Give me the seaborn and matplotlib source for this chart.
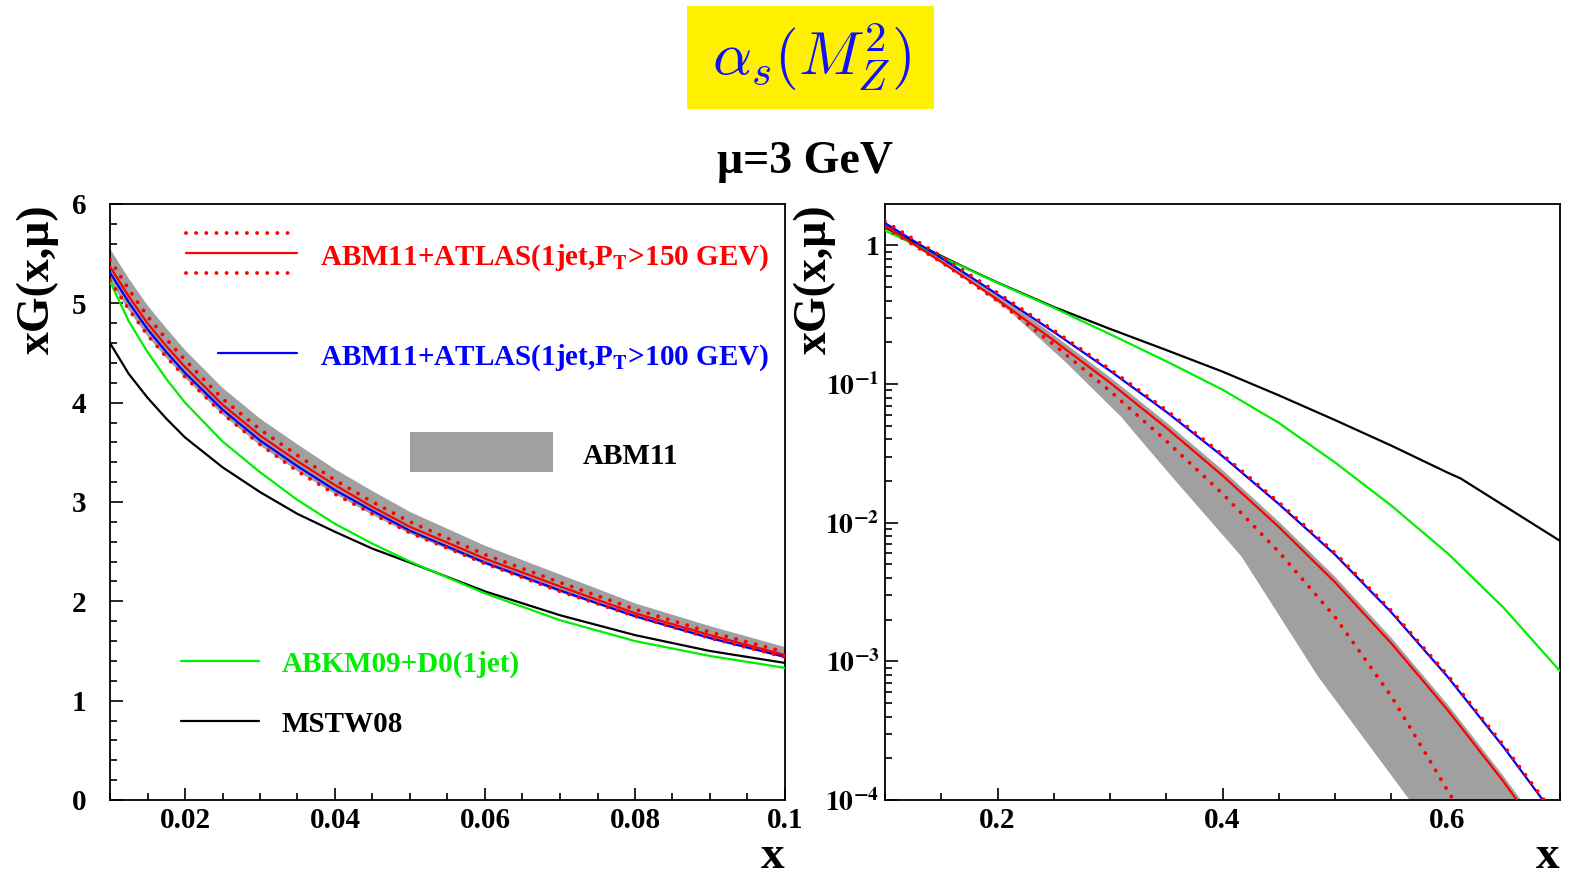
import matplotlib
matplotlib.use("Agg")
import matplotlib.pyplot as plt
import seaborn as sns
from matplotlib.patches import Rectangle
from matplotlib.ticker import MultipleLocator, FixedLocator, FixedFormatter, LogLocator, NullFormatter

# ---- left panel: x = 0.01 .. 0.1, linear y
xl = [0.01, 0.0125, 0.015, 0.0175, 0.02, 0.025, 0.03, 0.035, 0.04, 0.045, 0.05, 0.06, 0.07, 0.08, 0.09, 0.1]
abm11_hi_l = [5.55, 5.25, 4.98, 4.75, 4.53, 4.15, 3.84, 3.58, 3.33, 3.11, 2.90, 2.56, 2.27, 1.98, 1.75, 1.54]
abm11_lo_l = [5.22, 4.93, 4.67, 4.45, 4.25, 3.88, 3.57, 3.31, 3.08, 2.87, 2.68, 2.37, 2.09, 1.84, 1.62, 1.43]
atlas150_l = [5.37, 5.07, 4.80, 4.57, 4.36, 3.98, 3.67, 3.41, 3.17, 2.95, 2.75, 2.43, 2.15, 1.88, 1.66, 1.46]
atlas150_up_l = [5.44, 5.14, 4.87, 4.64, 4.43, 4.04, 3.73, 3.47, 3.22, 3.00, 2.80, 2.47, 2.19, 1.92, 1.69, 1.49]
atlas150_dn_l = [5.23, 4.94, 4.68, 4.46, 4.26, 3.89, 3.58, 3.31, 3.08, 2.88, 2.69, 2.38, 2.10, 1.85, 1.63, 1.44]
atlas100_l = [5.31, 5.01, 4.74, 4.51, 4.30, 3.93, 3.62, 3.36, 3.12, 2.91, 2.71, 2.39, 2.11, 1.85, 1.63, 1.44]
abkm09_l = [5.22, 4.82, 4.51, 4.24, 4.00, 3.61, 3.30, 3.02, 2.78, 2.58, 2.40, 2.08, 1.81, 1.60, 1.45, 1.33]
mstw08_l = [4.60, 4.29, 4.05, 3.84, 3.65, 3.35, 3.10, 2.88, 2.70, 2.53, 2.39, 2.10, 1.86, 1.66, 1.50, 1.38]

# ---- right panel: x = 0.1 .. 0.7, log y
xr = [0.1, 0.15, 0.2, 0.25, 0.3, 0.35, 0.4, 0.45, 0.5, 0.55, 0.6, 0.65, 0.7]
atlas100_r = [1.449, 0.813, 0.443, 0.2377, 0.1247, 0.0631, 0.0302, 0.01365, 0.00589, 0.00226, 0.000776, 0.00024, 6.8e-5]
atlas150_up_r = [1.49, 0.836, 0.455, 0.244, 0.128, 0.0649, 0.031, 0.01403, 0.00605, 0.00232, 0.000798, 0.000247, 7.0e-5]
atlas150_r = [1.387, 0.762, 0.407, 0.2065, 0.1023, 0.0484, 0.0219, 0.00933, 0.00372, 0.00135, 0.000447, 0.000135, 3.7e-5]
abm11_hi_r = [1.45, 0.835, 0.446, 0.226, 0.112, 0.053, 0.024, 0.0102, 0.00408, 0.00148, 0.00049, 0.000148, 4.1e-5]

x_dn_r = [0.1, 0.15, 0.2, 0.25, 0.3, 0.35, 0.4, 0.45, 0.5, 0.55, 0.6, 0.65]
atlas150_dn_r = [1.349, 0.759, 0.398, 0.1928, 0.0891, 0.0389, 0.0162, 0.00617, 0.00209, 0.000562, 0.0001175, 2.5e-5]

x_lo_r = [0.1, 0.1385, 0.173, 0.2117, 0.2617, 0.3099, 0.3327, 0.3563, 0.417, 0.485, 0.5663, 0.58]
abm11_lo_r = [1.33, 0.86, 0.57, 0.33, 0.141, 0.058, 0.035, 0.0209, 0.00569, 0.000776, 0.0001, 6e-5]

xr_abkm = [0.1, 0.14, 0.2, 0.25, 0.3, 0.35, 0.4, 0.45, 0.5, 0.55, 0.6, 0.65, 0.7]
abkm09_r = [1.279, 0.90, 0.537, 0.355, 0.229, 0.146, 0.0912, 0.0525, 0.0272, 0.0133, 0.00603, 0.00243, 0.000851]

xr_mstw = [0.1, 0.14, 0.17, 0.2, 0.25, 0.3, 0.35, 0.4, 0.45, 0.5, 0.55, 0.6, 0.6115, 0.65, 0.7]
mstw08_r = [1.35, 0.92, 0.70, 0.54, 0.36, 0.25, 0.176, 0.123, 0.083, 0.055, 0.036, 0.023, 0.0209, 0.0133, 0.0074]

RED, BLUE, GREEN, GRAY = "#ff0000", "#0000ff", "#00ee00", "#a0a0a0"
DOTS = (0, (0.01, 2.6))

sns.set_theme(style="ticks")
plt.rcParams["font.family"] = ["Liberation Serif", "DejaVu Serif"]
plt.rcParams["font.weight"] = "bold"
plt.rcParams["mathtext.fontset"] = "stix"
plt.rcParams["axes.linewidth"] = 1.3
plt.rcParams["axes.edgecolor"] = "black"
plt.rcParams["text.color"] = "black"
plt.rcParams["axes.labelcolor"] = "black"
plt.rcParams["xtick.color"] = "black"
plt.rcParams["ytick.color"] = "black"
plt.rcParams["xtick.labelcolor"] = "black"
plt.rcParams["ytick.labelcolor"] = "black"

W, H = 1569, 877
fig = plt.figure(figsize=(W / 100, H / 100), dpi=100)
fig.patch.set_facecolor("white")

axL = fig.add_axes([110 / W, 1 - 800 / H, 675 / W, 596 / H])
axR = fig.add_axes([885 / W, 1 - 800 / H, 675 / W, 596 / H])


def curves(ax, x_band, hi, x_lo, lo, x150, c150, x_up, up, x_dn, dn, x100, c100, xg, g, xb, b):
    ax.fill(list(x_band) + list(x_lo)[::-1], list(hi) + list(lo)[::-1], color=GRAY, lw=0, zorder=1)
    sns.lineplot(x=xb, y=b, ax=ax, color="black", lw=1.6, sort=False, estimator=None, zorder=3)
    sns.lineplot(x=xg, y=g, ax=ax, color=GREEN, lw=1.6, sort=False, estimator=None, zorder=3)
    sns.lineplot(x=x100, y=c100, ax=ax, color=BLUE, lw=1.6, sort=False, estimator=None, zorder=4)
    sns.lineplot(x=x150, y=c150, ax=ax, color=RED, lw=1.6, sort=False, estimator=None, zorder=5)
    for xx, yy in ((x_up, up), (x_dn, dn)):
        sns.lineplot(x=xx, y=yy, ax=ax, color=RED, lw=2.8, linestyle=DOTS,
                     dash_capstyle="round", sort=False, estimator=None, zorder=6)


curves(axL, xl, abm11_hi_l, xl, abm11_lo_l, xl, atlas150_l, xl, atlas150_up_l, xl, atlas150_dn_l,
       xl, atlas100_l, xl, abkm09_l, xl, mstw08_l)
curves(axR, xr, abm11_hi_r, x_lo_r, abm11_lo_r, xr, atlas150_r, xr, atlas150_up_r, x_dn_r, atlas150_dn_r,
       xr, atlas100_r, xr_abkm, abkm09_r, xr_mstw, mstw08_r)

# left axes
axL.set_xlim(0.01, 0.1)
axL.set_ylim(0, 6)
axL.xaxis.set_major_locator(FixedLocator([0.02, 0.04, 0.06, 0.08, 0.1]))
axL.xaxis.set_major_formatter(FixedFormatter(["0.02", "0.04", "0.06", "0.08", "0.1"]))
axL.xaxis.set_minor_locator(MultipleLocator(0.005))
axL.yaxis.set_major_locator(MultipleLocator(1))
axL.yaxis.set_minor_locator(MultipleLocator(0.2))

# right axes
axR.set_yscale("log")
axR.set_xlim(0.1, 0.7)
axR.set_ylim(1e-4, 1.99)
axR.xaxis.set_major_locator(FixedLocator([0.2, 0.4, 0.6]))
axR.xaxis.set_major_formatter(FixedFormatter(["0.2", "0.4", "0.6"]))
axR.xaxis.set_minor_locator(MultipleLocator(0.05))
axR.yaxis.set_major_locator(FixedLocator([1e-4, 1e-3, 1e-2, 1e-1, 1]))
axR.yaxis.set_major_formatter(FixedFormatter([r"$\mathbf{10^{-4}}$", r"$\mathbf{10^{-3}}$",
                                              r"$\mathbf{10^{-2}}$", r"$\mathbf{10^{-1}}$", "1"]))
axR.yaxis.set_minor_locator(LogLocator(base=10, subs=range(2, 10), numticks=20))
axR.yaxis.set_minor_formatter(NullFormatter())

for ax in (axL, axR):
    ax.set_xlabel("")
    ax.set_ylabel("")
    ax.set_facecolor("white")
    ax.tick_params(which="both", direction="in", top=False, right=False, width=1.2, color="black")
    ax.tick_params(which="major", length=9)
    ax.tick_params(which="minor", length=5)
    ax.tick_params(axis="x", labelsize=21, pad=5, labelcolor="black")
    for s in ax.spines.values():
        s.set_visible(True)
        s.set_color("black")
axL.tick_params(axis="y", labelsize=21, pad=17, labelcolor="black")
axR.tick_params(axis="y", labelsize=20, pad=4, labelcolor="black")

# legend of the left panel (drawn by hand, ROOT style)
tr = axL.transAxes
axL.plot([0.1126, 0.2741], [0.9513, 0.9513], transform=tr, color=RED, lw=2.8, linestyle=DOTS,
         dash_capstyle="round", clip_on=False)
axL.plot([0.1126, 0.2770], [0.9178, 0.9178], transform=tr, color=RED, lw=1.6, clip_on=False)
axL.plot([0.1126, 0.2741], [0.8842, 0.8842], transform=tr, color=RED, lw=2.8, linestyle=DOTS,
         dash_capstyle="round", clip_on=False)
axL.text(0.3111, 0.8977, r"ABM11+ATLAS(1jet,P$_{\mathbf{T}}$>150 GEV)", transform=tr, color=RED,
         fontsize=21, fontweight="bold", va="baseline", ha="left")
axL.plot([0.16, 0.277], [0.75, 0.75], transform=tr, color=BLUE, lw=1.6, clip_on=False)
axL.text(0.3111, 0.7299, r"ABM11+ATLAS(1jet,P$_{\mathbf{T}}$>100 GEV)", transform=tr, color=BLUE,
         fontsize=21, fontweight="bold", va="baseline", ha="left")
axL.add_patch(Rectangle((0.4444, 0.5503), 0.2119, 0.0671, transform=tr, color=GRAY, lw=0))
axL.text(0.7007, 0.5638, "ABM11", transform=tr, color="black", fontsize=21, fontweight="bold",
         va="baseline", ha="left")
axL.plot([0.1052, 0.2207], [0.2332, 0.2332], transform=tr, color=GREEN, lw=1.6, clip_on=False)
axL.text(0.2548, 0.2148, "ABKM09+D0(1jet)", transform=tr, color=GREEN, fontsize=21,
         fontweight="bold", va="baseline", ha="left")
axL.plot([0.1052, 0.2207], [0.1326, 0.1326], transform=tr, color="black", lw=1.6, clip_on=False)
axL.text(0.2548, 0.1141, "MSTW08", transform=tr, color="black", fontsize=21, fontweight="bold",
         va="baseline", ha="left")

# titles and axis labels
fig.add_artist(Rectangle((687 / W, 1 - 109 / H), 247 / W, 103 / H, transform=fig.transFigure,
                         color="#fff000", lw=0))
fig.text(811 / W, 1 - 57 / H, r"$\alpha_s(M_Z^2)$", color="#1010ff", fontsize=44,
         math_fontfamily="cm", ha="center", va="center")
fig.text(805 / W, 1 - 162 / H, "μ=3 GeV", fontsize=33, fontweight="bold", color="black",
         ha="center", va="center")
for xpix in (38, 815):
    fig.text(xpix / W, 1 - 204 / H, "xG(x,μ)", fontsize=33, fontweight="bold", rotation=90,
             color="black", ha="center", va="top")
for xpix in (773, 1548):
    fig.text(xpix / W, 1 - 857 / H, "x", fontsize=34, fontweight="bold", color="black",
             ha="center", va="center")

fig.savefig("out.png", dpi=100)
